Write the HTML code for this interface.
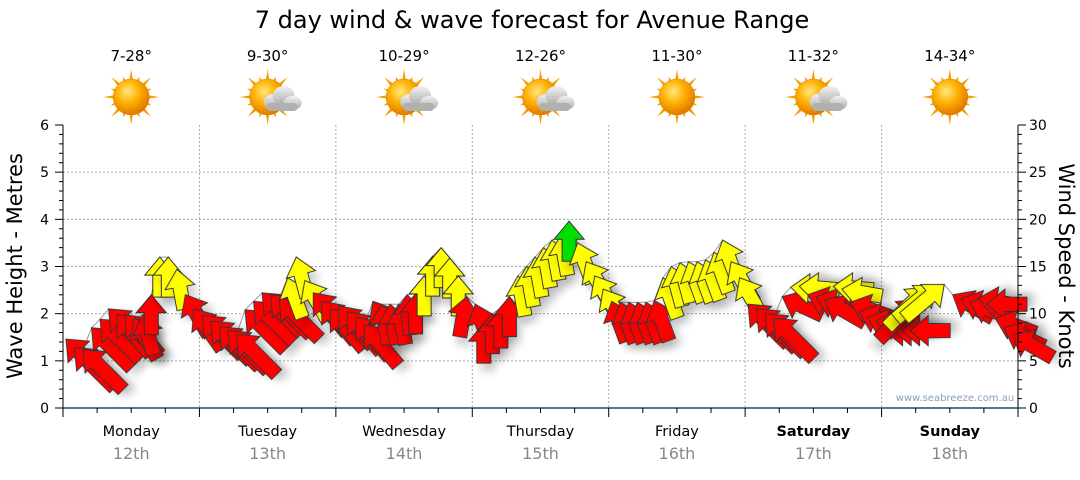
<!DOCTYPE html>
<html><head><meta charset="utf-8"><style>
body{margin:0;background:#fff;width:1080px;height:475px;overflow:hidden;font-family:"Liberation Sans","DejaVu Sans",sans-serif}
svg text{font-family:"DejaVu Sans","Liberation Sans",sans-serif}
</style></head><body>
<svg id="chart" width="1080" height="475" viewBox="0 0 1080 475" xmlns="http://www.w3.org/2000/svg">
<defs>
<filter id="sh" x="-50%" y="-50%" width="200%" height="200%"><feGaussianBlur in="SourceAlpha" stdDeviation="4"/><feOffset dx="4" dy="8"/><feComponentTransfer><feFuncA type="linear" slope="0.18"/></feComponentTransfer><feMerge><feMergeNode/><feMergeNode in="SourceGraphic"/></feMerge></filter>
<radialGradient id="sunG" cx="40%" cy="35%" r="65%"><stop offset="0" stop-color="#ffe680"/><stop offset="0.5" stop-color="#ffb000"/><stop offset="1" stop-color="#e07800"/></radialGradient>
<linearGradient id="cloudG" x1="0" y1="0" x2="0" y2="1"><stop offset="0" stop-color="#f2f2f2"/><stop offset="1" stop-color="#a8a8a8"/></linearGradient>
</defs>
<text x="532" y="28" text-anchor="middle" font-size="24" fill="#000">7 day wind &amp; wave forecast for Avenue Range</text>
<g id="grid"></g>
<g id="icons"></g>
<g id="arrows"></g>
<g id="axes"></g>
<text transform="translate(22,266) rotate(-90)" text-anchor="middle" font-size="21" fill="#000">Wave Height - Metres</text>
<text transform="translate(1059,266) rotate(90)" text-anchor="middle" font-size="21" fill="#000">Wind Speed - Knots</text>
<text x="955" y="401" text-anchor="middle" font-size="10" fill="#8aa0b8">www.seabreeze.com.au</text>
</svg>
<script>
const days=["Monday","Tuesday","Wednesday","Thursday","Friday","Saturday","Sunday"];
const dates=["12th","13th","14th","15th","16th","17th","18th"];
const temps=["7-28°","9-30°","10-29°","12-26°","11-30°","11-32°","14-34°"];
const cloudy=[false,true,true,true,false,true,false];
const leftTicks=[0,1,2,3,4,5,6];
const rightTicks=[0,5,10,15,20,25,30];
const windSpeed=[
7.3,6.4,6.2,8.5,9.4,10.5,9.9,9.9,9.5,9.9,12.0,16.0,16.0,14.7,12.0,10.5,
9.8,9.2,8.6,8.2,7.8,10.4,11.3,12.2,12.0,11.6,13.8,16.0,13.5,12.2,11.3,10.5,
10.8,10.2,9.6,8.8,11.3,11.0,11.0,11.0,12.0,12.1,14.0,16.1,17.0,15.9,14.0,11.8,
11.0,9.0,10.0,10.6,11.8,14.0,15.0,16.0,17.0,17.8,18.3,19.8,17.5,15.5,14.0,12.6,
11.3,11.2,11.2,11.2,11.2,11.4,13.8,15.0,15.4,15.5,15.5,15.7,16.5,17.8,15.5,13.8,
11.0,10.5,10.0,9.5,11.8,12.8,12.9,12.0,11.8,11.5,12.9,12.6,11.2,10.2,9.6,9.2,
8.2,8.2,8.2,8.2,11.5,12.8,13.0,13.1,12.0,11.6,11.2,11.6,11.0,9.5,8.5,7.8];
const windDir=[
315,315,315,315,315,315,320,320,330,345,0,0,0,350,330,325,
315,315,315,315,315,315,315,315,315,315,340,345,330,320,320,320,
320,320,320,320,330,350,350,350,355,0,0,0,0,0,0,10,
340,0,0,0,0,350,350,350,350,350,350,0,340,330,330,330,
340,340,340,340,340,340,340,345,345,340,340,340,340,340,330,330,
315,315,315,315,295,275,275,290,290,300,275,280,290,290,290,280,
270,270,270,270,45,45,50,50,300,290,290,280,270,290,295,300];
const NS="http://www.w3.org/2000/svg";
const X0=63,X1=1018,YT=125,YB=408,DW=(X1-X0)/7;
function yM(m){return YB-(YB-YT)*m/6}
function yK(k){return YB-(YB-YT)*k/30}
function xI(i){return X0+3+i*(DW/16)}
function mk(tag,attrs,parent){const e=document.createElementNS(NS,tag);for(const k in attrs)e.setAttribute(k,attrs[k]);parent.appendChild(e);return e}
const grid=document.getElementById('grid'),axes=document.getElementById('axes'),icons=document.getElementById('icons'),arr=document.getElementById('arrows');
leftTicks.forEach(v=>{if(v>0&&v<6){const l=mk('line',{x1:X0,x2:X1,y1:yM(v),y2:yM(v),stroke:'#aaa','stroke-dasharray':'2,2','stroke-width':1},grid);

}});
for(let d=1;d<7;d++){const x=X0+d*DW;const l=mk('line',{x1:x,x2:x,y1:YT,y2:YB,stroke:'#aaa','stroke-dasharray':'2,2','stroke-width':1},grid);

}
mk('line',{x1:X0,x2:X0,y1:YT,y2:YB,stroke:'#000'},axes);
mk('line',{x1:X1,x2:X1,y1:YT,y2:YB,stroke:'#000'},axes);
mk('line',{x1:X0,x2:X1,y1:YB,y2:YB,stroke:'#1a4a6a','stroke-width':1.5},axes);
for(let m=0;m<=30;m++){const y=yM(m*0.2);mk('line',{x1:X0-(m%5==0?8:4),x2:X0,y1:y,y2:y,stroke:'#000'},axes);}
for(let k=0;k<=30;k++){const y=yK(k);mk('line',{x1:X1,x2:X1+(k%5==0?8:4),y1:y,y2:y,stroke:'#000'},axes);}
leftTicks.forEach(v=>{const t=mk('text',{x:X0-14,y:yM(v)+5,'text-anchor':'end','font-size':14},axes);t.textContent=v;

});
rightTicks.forEach(v=>{const t=mk('text',{x:X1+11,y:yK(v)+5,'text-anchor':'start','font-size':14},axes);t.textContent=v;

});
for(let q=0;q<=28;q++){const x=X0+q*DW/4;mk('line',{x1:x,x2:x,y1:YB,y2:YB+(q%4==0?9:5),stroke:'#000'},axes);}
days.forEach((d,i)=>{const cx=X0+DW*(i+0.5);
const t=mk('text',{x:cx,y:436,'text-anchor':'middle','font-size':14.5,'font-weight':i>=5?'bold':'normal'},axes);t.textContent=d;


const t2=mk('text',{x:cx,y:459,'text-anchor':'middle','font-size':16,fill:'#888'},axes);t2.textContent=dates[i];


const t3=mk('text',{x:cx,y:61,'text-anchor':'middle','font-size':15},icons);t3.textContent=temps[i];


const g=mk('g',{transform:`translate(${cx},97)`},icons);


for(let r=0;r<16;r++){const a=r*Math.PI/8;const a1=a-0.12,a2=a+0.12;const R=(r%2?22:28);
mk('polygon',{points:`${16*Math.cos(a1)},${16*Math.sin(a1)} ${R*Math.cos(a)},${R*Math.sin(a)} ${16*Math.cos(a2)},${16*Math.sin(a2)}`,fill:'#f5a000'},g);}
mk('circle',{cx:0,cy:0,r:18,fill:'url(#sunG)',stroke:'#e08000','stroke-width':0.5},g);
if(cloudy[i]){const c=mk('g',{transform:'translate(12,3)'},g);
mk('ellipse',{cx:-6,cy:2,rx:10,ry:8,fill:'url(#cloudG)'},c);mk('ellipse',{cx:4,cy:-4,rx:11,ry:10,fill:'url(#cloudG)'},c);mk('ellipse',{cx:13,cy:3,rx:9,ry:7,fill:'url(#cloudG)'},c);mk('rect',{x:-13,y:3,width:31,height:8,rx:4,fill:'#b0b0b0'},c);}
});
let pts=windSpeed.map((v,i)=>`${xI(i)},${yK(v)}`).join(' ');
mk('polyline',{points:pts,fill:'none',stroke:'#999','stroke-width':1},arr);
function col(v){return v>=19?'#00e000':(v>=12.5?'#ffff00':'#ff0000')}
windSpeed.forEach((v,i)=>{const d=windDir[i];const r=d*Math.PI/180;const L=40/Math.max(Math.abs(Math.sin(r)),Math.abs(Math.cos(r)));
const p=mk('polygon',{points:`0,0 15,18 7,18 7,${L} -7,${L} -7,18 -15,18`,fill:col(v),stroke:'#333','stroke-width':1,filter:'url(#sh)',transform:`translate(${xI(i)},${yK(v)}) rotate(${d})`},arr);

});
</script>
</body></html>
